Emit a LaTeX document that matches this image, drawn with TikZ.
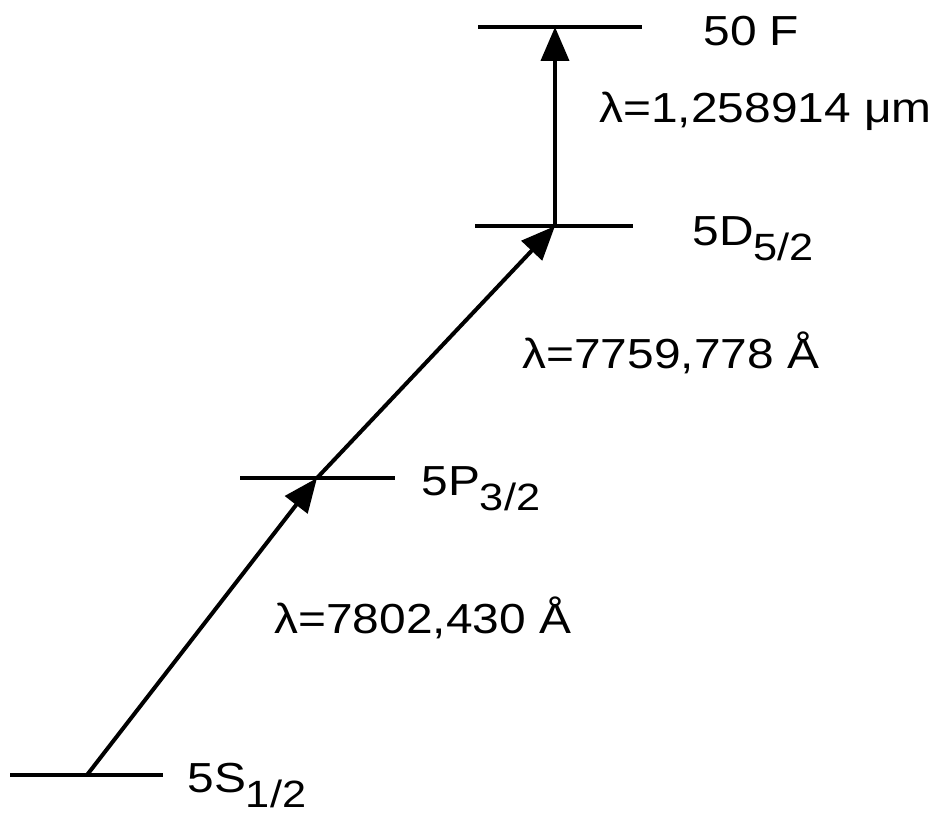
\documentclass[tikz,border=0pt]{standalone}
\usepackage{fontspec}
\setmainfont{Liberation Sans}[FakeStretch=1.14]
\usetikzlibrary{arrows.meta}

\newcommand{\lsub}[1]{\raisebox{-0.36em}{\fontsize{19}{20}\selectfont #1}}

\tikzset{
    level/.style={line width=1.6pt},
    transition/.style={line width=2pt, -{Triangle[length=17pt, width=14pt]}},
    lbl/.style={anchor=base west, inner sep=0pt, font=\fontsize{21}{24}\selectfont}
}

\begin{document}
\begin{tikzpicture}[x=0.5pt, y=-0.5pt]
    \useasboundingbox (0,0) rectangle (931,813);

    % Levels
    \draw[level] (10,775) -- (163,775);
    \draw[level] (240,478) -- (395,478);
    \draw[level] (475,226) -- (633,226);
    \draw[level] (478,27) -- (642,27);

    % Points where the transitions meet the levels
    \coordinate (s) at (87,775);
    \coordinate (p) at (317,478);
    \coordinate (d) at (555,226);
    \coordinate (f) at (555,27);

    % Transitions
    \draw[transition] (s) -- (p);
    \draw[transition] (p) -- (d);
    \draw[transition] (d) -- (f);

    % Labels
    \node[lbl] (ls) at (187,792) {5S\lsub{1/2}};
    \node[lbl] (lp) at (421,495) {5P\lsub{3/2}};
    \node[lbl] (ld) at (692,245) {5D\lsub{5/2}};
    \node[lbl] (lf) at (703,46) {50 F};

    \node[lbl] (w1) at (274,633) {λ=7802,430 Å};
    \node[lbl] (w2) at (522,368) {λ=7759,778 Å};
    \node[lbl] (w3) at (599,123) {λ=1,258914 μm};
\end{tikzpicture}
\end{document}
